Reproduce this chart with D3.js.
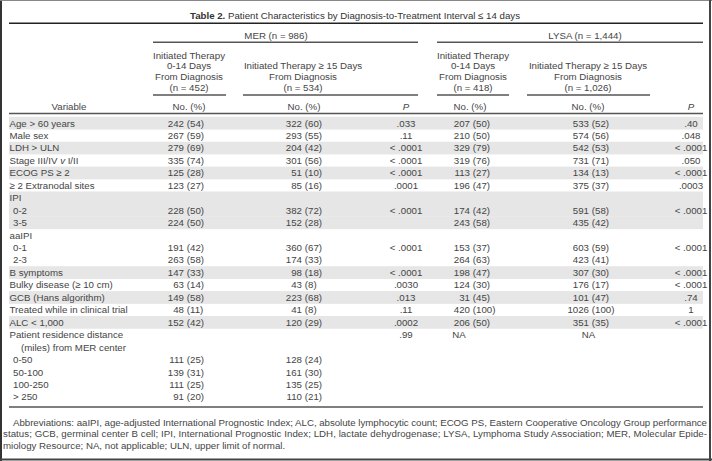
<!DOCTYPE html>
<html><head><meta charset="utf-8">
<script src="https://cdn.jsdelivr.net/npm/d3@7"></script>
<style>
body{margin:0;background:#fff}
svg{display:block}
text{font-family:"Liberation Sans",Arial,Helvetica,sans-serif;fill:#454545;font-size:9.7px}
</style>
</head><body>
<svg id="c" width="712" height="461"></svg>
<script>
// ---------- data ----------
const titleBold = "Table 2.";
const titleRest = " Patient Characteristics by Diagnosis-to-Treatment Interval \u2264 14 days";
const groups = ["MER (n = 986)", "LYSA (n = 1,444)"];
const merEarlyHead = ["Initiated Therapy", "0-14 Days", "From Diagnosis", "(n = 452)"];
const merLateHead = ["Initiated Therapy \u2265 15 Days", "From Diagnosis", "(n = 534)"];
const lysaEarlyHead = ["Initiated Therapy", "0-14 Days", "From Diagnosis", "(n = 418)"];
const lysaLateHead = ["Initiated Therapy \u2265 15 Days", "From Diagnosis", "(n = 1,026)"];
const variables = ["Age > 60 years","Male sex","LDH > ULN","Stage III/IV v I/II","ECOG PS \u2265 2","\u2265 2 Extranodal sites","IPI","0-2","3-5","aaIPI","0-1","2-3","B symptoms","Bulky disease (\u2265 10 cm)","GCB (Hans algorithm)","Treated while in clinical trial","ALC < 1,000","Patient residence distance","(miles) from MER center","0-50","50-100","100-250","> 250"];
const indentLevel = [0,0,0,0,0,0,0,1,1,0,1,1,0,0,0,0,0,0,2,1,1,1,1];
const shaded = [1,0,1,0,1,0,1,1,1,0,0,0,1,0,1,0,1,0,0,0,0,0,0];
const merEarlyN   = [242,267,279,335,125,123,null,228,224,null,191,263,147,63,149,48,152,null,null,111,139,111,91];
const merEarlyPct = [54,59,69,74,28,27,null,50,50,null,42,58,33,14,58,11,42,null,null,25,31,25,20];
const merLateN    = [322,293,204,301,51,85,null,382,152,null,360,174,98,43,223,41,120,null,null,128,161,135,110];
const merLatePct  = [60,55,42,56,10,16,null,72,28,null,67,33,18,8,68,8,29,null,null,24,30,25,21];
const merP = [".033",".11","< .0001","< .0001","< .0001",".0001","","< .0001","","","< .0001","","< .0001",".0030",".013",".11",".0002",".99","","","","",""];
const lysaEarlyN   = [207,210,329,319,113,196,null,174,243,null,153,264,198,124,31,420,206,"NA",null,null,null,null,null];
const lysaEarlyPct = [50,50,79,76,27,47,null,42,58,null,37,63,47,30,45,100,50,null,null,null,null,null,null];
const lysaLateN    = [533,574,542,731,134,375,null,591,435,null,603,423,307,176,101,1026,351,"NA",null,null,null,null,null];
const lysaLatePct  = [52,56,53,71,13,37,null,58,42,null,59,41,30,17,47,100,35,null,null,null,null,null,null];
const lysaP = [".40",".048","< .0001",".050","< .0001",".0003","","< .0001","","","< .0001","","< .0001","< .0001",".74","1","< .0001","","","","","",""];
const footnote = [
  "Abbreviations: aaIPI, age-adjusted International Prognostic Index; ALC, absolute lymphocytic count; ECOG PS, Eastern Cooperative Oncology Group performance",
  "status; GCB, germinal center B cell; IPI, International Prognostic Index; LDH, lactate dehydrogenase; LYSA, Lymphoma Study Association; MER, Molecular Epide-",
  "miology Resource; NA, not applicable; ULN, upper limit of normal."
];

// ---------- layout ----------
const svg = d3.select("#c");
const L = 9, R = 703;
const y = d3.scaleBand().domain(d3.range(variables.length)).range([116.8, 116.8 + variables.length * 12.45]).padding(0);
const cy = i => y(i) + y.bandwidth() / 2;
const base = c => c + 3.5;
const indentX = d3.scaleOrdinal().domain([0,1,2]).range([9.5, 13, 21]);

// frame
svg.append("line").attr("x1",1).attr("x2",1).attr("y1",0).attr("y2",461).attr("stroke","#333").attr("stroke-width",2);
svg.append("line").attr("x1",0).attr("x2",712).attr("y1",0.5).attr("y2",0.5).attr("stroke","#888").attr("stroke-width",1);
svg.append("line").attr("x1",710).attr("x2",710).attr("y1",0).attr("y2",461).attr("stroke","#444").attr("stroke-width",2);
svg.append("line").attr("x1",0).attr("x2",712).attr("y1",459.5).attr("y2",459.5).attr("stroke","#444").attr("stroke-width",2);

// title
const tt = svg.append("text").attr("x",355).attr("y",18.5).attr("text-anchor","middle").style("font-size","10.2px").style("fill","#333");
tt.append("tspan").attr("font-weight","bold").text(titleBold);
tt.append("tspan").text(titleRest);
{ const w = tt.node().getComputedTextLength(); tt.style("font-size", (10.2*330/w).toFixed(2)+"px"); }
svg.append("line").attr("x1",L).attr("x2",R).attr("y1",23.3).attr("y2",23.3).attr("stroke","#222").attr("stroke-width",1.4);

// group headers
const grp = [{t:groups[0], x:276, x1:153, x2:418},{t:groups[1], x:585, x1:437, x2:703}];
grp.forEach(g=>{
  svg.append("text").attr("x",g.x).attr("y",base(35.7)).attr("text-anchor","middle").text(g.t);
  svg.append("line").attr("x1",g.x1).attr("x2",g.x2).attr("y1",42.3).attr("y2",42.3).attr("stroke","#555").attr("stroke-width",1.4);
});
const hy = [55, 65.7, 76.3, 87];
const subs = [
  {lines:merEarlyHead, x:189, x1:153, x2:226, start:0},
  {lines:merLateHead, x:303, x1:243, x2:418, start:1},
  {lines:lysaEarlyHead, x:473, x1:437, x2:509, start:0},
  {lines:lysaLateHead, x:588, x1:527, x2:650, start:1}
];
subs.forEach(s=>{
  s.lines.forEach((t,k)=>svg.append("text").attr("x",s.x).attr("y",base(hy[k+s.start])).attr("text-anchor","middle").text(t));
  svg.append("line").attr("x1",s.x1).attr("x2",s.x2).attr("y1",95).attr("y2",95).attr("stroke","#555").attr("stroke-width",1.4);
});
// column header row
const colHead = [{t:"Variable",x:69},{t:"No. (%)",x:189},{t:"No. (%)",x:304},{t:"P",x:406,i:1},{t:"No. (%)",x:470},{t:"No. (%)",x:588},{t:"P",x:691,i:1}];
colHead.forEach(c=>svg.append("text").attr("x",c.x).attr("y",base(106.7)).attr("text-anchor","middle").attr("font-style",c.i?"italic":null).text(c.t));
svg.append("line").attr("x1",L).attr("x2",R).attr("y1",113.5).attr("y2",113.5).attr("stroke","#555").attr("stroke-width",1.4);

// shading
svg.append("g").selectAll("rect").data(d3.range(variables.length).filter(i=>shaded[i])).join("rect")
  .attr("x",L).attr("width",R-L).attr("y",i=>y(i)).attr("height",y.bandwidth()+0.3).attr("fill","#e6e6e6");

// variable labels
const vg = svg.append("g");
variables.forEach((v,i)=>{
  const t = vg.append("text").attr("x",indentX(indentLevel[i])).attr("y",base(cy(i)));
  if (v.includes(" v ")) {
    const [a,b] = v.split(" v ");
    t.append("tspan").text(a+" ");
    t.append("tspan").attr("font-style","italic").text("v");
    t.append("tspan").text(" "+b);
  } else t.text(v);
});

// numeric columns
function numCol(Ns, Ps, xEnd, naX){
  const g = svg.append("g");
  Ns.forEach((n,i)=>{
    if (n === null) return;
    if (n === "NA") { g.append("text").attr("x",naX).attr("y",base(cy(i))).attr("text-anchor","middle").text("NA"); return; }
    g.append("text").attr("x",xEnd).attr("y",base(cy(i))).attr("text-anchor","end").text(n);
    g.append("text").attr("x",xEnd+2.8).attr("y",base(cy(i))).text("("+Ps[i]+")");
  });
}
numCol(merEarlyN, merEarlyPct, 184, 189);
numCol(merLateN, merLatePct, 302, 304);
numCol(lysaEarlyN, lysaEarlyPct, 470, 459);
numCol(lysaLateN, lysaLatePct, 589, 588.5);
function pCol(Ps, x){
  svg.append("g").selectAll("text").data(Ps.map((p,i)=>({p,i})).filter(d=>d.p)).join("text")
    .attr("x",x).attr("y",d=>base(cy(d.i))).attr("text-anchor","middle").text(d=>d.p);
}
pCol(merP, 406);
pCol(lysaP, 691);

// bottom rule
svg.append("line").attr("x1",L).attr("x2",R).attr("y1",407).attr("y2",407).attr("stroke","#555").attr("stroke-width",1.4);

// footnote
const fy = [425.5, 437, 448.5];
const fx = [13, 3, 3];
footnote.forEach((t,k)=>{
  const e = svg.append("text").attr("x",fx[k]).attr("y",fy[k]).text(t);
  if (k < 2) e.attr("textLength", 707 - fx[k]).attr("lengthAdjust","spacing");
});
</script>
</body></html>
